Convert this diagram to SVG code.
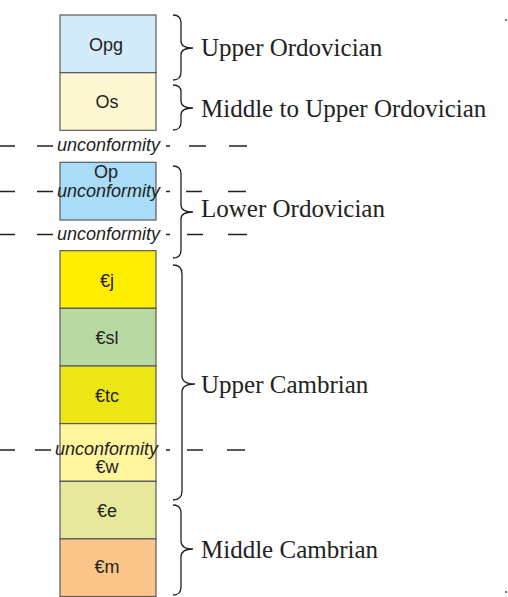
<svg xmlns="http://www.w3.org/2000/svg" width="508" height="597" viewBox="0 0 508 597">
<style>
.box{stroke:#5a5a5a;stroke-width:1.2}
.unit{font-family:"Liberation Sans",Arial,sans-serif;font-size:18px;fill:#222;text-anchor:middle}
.unc{font-family:"Liberation Sans",Arial,sans-serif;font-size:18px;font-style:italic;fill:#222}
.age{font-family:"Liberation Serif","Times New Roman",serif;font-size:25px;fill:#222}
.dash{stroke:#222;stroke-width:1.4;fill:none}
.brace{stroke:#222;stroke-width:1.3;fill:none}
</style>
<rect width="508" height="597" fill="#fff"/>
<g id="Opg"><rect class="box" x="60" y="15" width="96" height="57.7" fill="#d4ecf9"/><text class="unit" x="106" y="51">Opg</text></g>
<g id="Os"><rect class="box" x="60" y="72.7" width="96" height="57.6" fill="#fdf8d2"/><text class="unit" x="107" y="108">Os</text></g>
<g id="Op"><rect class="box" x="60" y="162.3" width="96" height="57.7" fill="#a9dcf6"/><text class="unit" x="106" y="178">Op</text></g>
<g id="Cj"><rect class="box" x="60" y="250.7" width="96" height="57.6" fill="#ffee00"/><text class="unit" x="107" y="286.5">€j</text></g>
<g id="Csl"><rect class="box" x="60" y="308.3" width="96" height="57.7" fill="#b8d9a3"/><text class="unit" x="107" y="344">€sl</text></g>
<g id="Ctc"><rect class="box" x="60" y="366" width="96" height="57.6" fill="#ece615"/><text class="unit" x="107" y="401.5">€tc</text></g>
<g id="Cw"><rect class="box" x="60" y="423.6" width="96" height="57.7" fill="#fff59d"/><text class="unit" x="107" y="472.5">€w</text></g>
<g id="Ce"><rect class="box" x="60" y="481.3" width="96" height="57.6" fill="#e6e99c"/><text class="unit" x="107" y="516.5">€e</text></g>
<g id="Cm"><rect class="box" x="60" y="538.9" width="96" height="57.6" fill="#fcc68a"/><text class="unit" x="107" y="573">€m</text></g>
<g id="connectors">
<g id="unconformity1">
<path class="dash" d="M0 146H15M37 146H53M166 146H170M189 146H206M229 146H247"/>
<text class="unc" x="57" y="151">unconformity</text>
</g>
<g id="unconformity2">
<path class="dash" d="M0 191.5H15M37 191.5H53M166 191.5H170M186 191.5H202M228 191.5H246"/>
<text class="unc" x="57" y="197">unconformity</text>
</g>
<g id="unconformity3">
<path class="dash" d="M0 234.5H15M37 234.5H53M166 234.5H170M187 234.5H203M228 234.5H247"/>
<text class="unc" x="57" y="240">unconformity</text>
</g>
<g id="unconformity4">
<path class="dash" d="M0 450H15M35 450H51M166 450H170M187 450H203M227 450H245"/>
<text class="unc" x="55" y="455">unconformity</text>
</g>
<path class="brace" d="M173 15Q181 15 181 23V41Q181 48 193 48Q181 48 181 55V72Q181 80 173 80"/>
<path class="brace" d="M173 85Q181 85 181 92V101Q181 108 193 108Q181 108 181 115V122Q181 130 173 130"/>
<path class="brace" d="M173 166Q181 166 181 174V205Q181 212 193 212Q181 212 181 219V250Q181 258 173 258"/>
<path class="brace" d="M173 265Q182 265 182 274V376Q182 384 195 384Q182 384 182 392V491Q182 500 173 500"/>
<path class="brace" d="M173 505Q181 505 181 513V541Q181 549 193 549Q181 549 181 557V587Q181 595 173 595"/>
</g>
<g id="labels">
<text class="age" x="201" y="56">Upper Ordovician</text>
<text class="age" x="201" y="116.5">Middle to Upper Ordovician</text>
<text class="age" x="201" y="217">Lower Ordovician</text>
<text class="age" x="201" y="393">Upper Cambrian</text>
<text class="age" x="201" y="558">Middle Cambrian</text>
</g>
<rect x="505" y="19" width="2" height="2" fill="#777"/>
<rect x="505" y="591" width="2" height="2" fill="#777"/>
</svg>
